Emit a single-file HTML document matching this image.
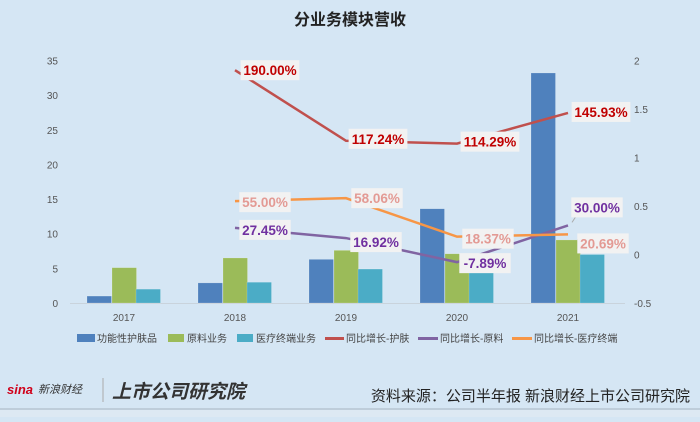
<!DOCTYPE html>
<html><head><meta charset="utf-8">
<style>
body{margin:0;width:700px;height:417px;background:#d5e6f4;overflow:hidden;font-family:"Liberation Sans","Noto Sans CJK SC",sans-serif;}
svg text{font-family:"Liberation Sans","Noto Sans CJK SC",sans-serif;}
</style></head>
<body>
<svg id="chart" width="700" height="417" xmlns="http://www.w3.org/2000/svg">
<rect width="700" height="417" fill="#d5e6f4"/>
<text x="350" y="25" text-anchor="middle" font-size="16" font-weight="bold" fill="#222">分业务模块营收</text>
<g id="axes"></g>
<g id="bars"></g>
<g id="lines"></g>
<g id="labels"></g>
<g font-size="10" fill="#444">
<rect x="77" y="334" width="18" height="8" fill="#4f81bd"/><text x="97" y="342">功能性护肤品</text>
<rect x="168" y="334" width="16" height="8" fill="#9bbb59"/><text x="187" y="342">原料业务</text>
<rect x="237" y="334" width="16" height="8" fill="#4bacc6"/><text x="256" y="342">医疗终端业务</text>
<rect x="325" y="337" width="19" height="3" fill="#c0504d"/><text x="346" y="342">同比增长-护肤</text>
<rect x="418" y="337" width="20" height="3" fill="#8064a2"/><text x="440" y="342">同比增长-原料</text>
<rect x="512" y="337" width="20" height="3" fill="#f79646"/><text x="534" y="342">同比增长-医疗终端</text>
</g>
<g>
<text x="7" y="394" font-size="13" font-weight="bold" font-style="italic" fill="#d0021b">sina</text>
<text x="38" y="393" font-size="11" font-style="italic" fill="#333">新浪财经</text>
<line x1="103" y1="378" x2="103" y2="402" stroke="#aaa"/>
<text x="112" y="398" font-size="19" font-weight="bold" font-style="italic" fill="#333">上市公司研究院</text>
</g>
<text x="690" y="401" text-anchor="end" font-size="15" fill="#222">资料来源：公司半年报 新浪财经上市公司研究院</text>
<line x1="0" y1="409" x2="700" y2="409" stroke="#a8b4bf" stroke-width="1"/>
<rect x="0" y="410" width="700" height="7" fill="#dde9f3"/>
</svg>
<script>
const categories=["2017","2018","2019","2020","2021"];
const skincare=[1.0,2.9,6.3,13.6,33.2];
const material=[5.1,6.5,7.6,7.1,9.1];
const medical=[2.0,3.0,4.9,4.4,7.0];
const growthSkincare=[null,1.9,1.1724,1.1429,1.4593];
const growthMaterial=[null,0.2745,0.1692,-0.0789,0.30];
const growthMedical=[null,0.55,0.5806,0.1837,0.2069];
const leftTicks=[0,5,10,15,20,25,30,35];
const rightTicks=[-0.5,0,0.5,1,1.5,2];
const NS="http://www.w3.org/2000/svg";
const yL=v=>303-v/35*242.5;
const yR=v=>303-(v+0.5)/2.5*242.5;
const xC=i=>124+i*111;
function mk(tag,attrs,parent){const e=document.createElementNS(NS,tag);for(const k in attrs)e.setAttribute(k,attrs[k]);parent.appendChild(e);return e;}
const axes=document.getElementById('axes');
mk('line',{x1:70,y1:303.5,x2:625,y2:303.5,stroke:'#c9d3dc'},axes);
leftTicks.forEach(t=>{const e=mk('text',{x:58,y:yL(t)+4,'text-anchor':'end','font-size':10,fill:'#555'},axes);e.textContent=t;

});
rightTicks.forEach(t=>{const e=mk('text',{x:634,y:yR(t)+4,'font-size':10,fill:'#555'},axes);e.textContent=t;

});
categories.forEach((c,i)=>{const e=mk('text',{x:xC(i),y:321,'text-anchor':'middle','font-size':10,fill:'#555'},axes);e.textContent=c;

});
const bars=document.getElementById('bars');
[[skincare,'#4f81bd',-37],[material,'#9bbb59',-12],[medical,'#4bacc6',12]].forEach(([arr,col,off])=>{
arr.forEach((v,i)=>{const r=mk('rect',{x:xC(i)+off,y:yL(v),width:24.5,height:303-yL(v),fill:col,stroke:'#ffffff55','stroke-width':0.5},bars);

});});
const lines=document.getElementById('lines');
[[growthSkincare,'#c0504d'],[growthMaterial,'#8064a2'],[growthMedical,'#f79646']].forEach(([arr,col])=>{
let d='';arr.forEach((v,i)=>{if(v===null)return;d+=(d?'L':'M')+xC(i)+','+yR(v);});
const p=mk('path',{d:d,fill:'none',stroke:col,'stroke-width':2.5},lines);

});
const labels=document.getElementById('labels');
function lab(arr,col,off,leader,key){arr.forEach((v,i)=>{if(v===null)return;
const lx=xC(i)+off[i][0], ly=yR(v)+off[i][1];
const txt=(v*100).toFixed(2)+'%';
const w=txt.length*7.4+7;
if(leader[i]){mk('line',{x1:xC(i)+leader[i][0],y1:yR(v)+leader[i][1],x2:lx-w/2+leader[i][2],y2:ly+leader[i][3],stroke:'#aaa','stroke-width':1},labels);}
mk('rect',{x:lx-w/2,y:ly-10,width:w,height:20,fill:'#f2f2f2'},labels);
const t=mk('text',{x:lx,y:ly+5,'text-anchor':'middle','font-size':13.5,'font-weight':'bold',fill:col},labels);t.textContent=txt;

});}
lab(growthSkincare,'#c00000',[[0,0],[35,0],[32,-2],[33,-2],[33,-1]],[],'skincare');
lab(growthMaterial,'#7030a0',[[0,0],[30,2],[30,4],[28,1],[29,-18]],[0,0,0,0,[4,-3,4,10]],'material');
lab(growthMedical,'#e39a94',[[0,0],[30,1],[31,0],[31,2],[35,9]],[0,0,0,0,[14,0,0,-3]],'medical');
</script>
</body></html>
